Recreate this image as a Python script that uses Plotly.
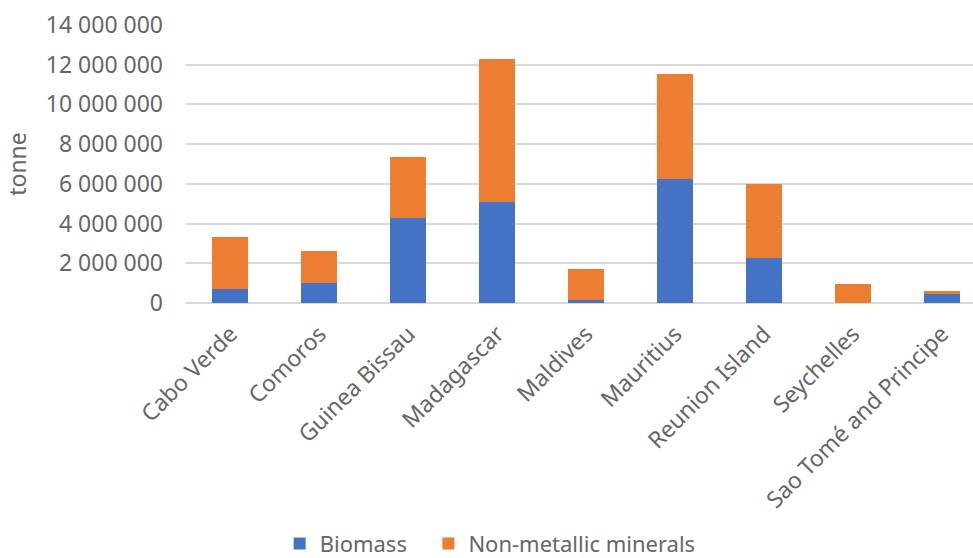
import plotly.graph_objects as go

categories = ["Cabo Verde", "Comoros", "Guinea Bissau", "Madagascar", "Maldives",
              "Mauritius", "Reunion Island", "Seychelles", "Sao Tomé and Principe"]
biomass = [720000, 1020000, 4300000, 5100000, 150000, 6240000, 2250000, 20000, 470000]
totals = [3320000, 2630000, 7330000, 12270000, 1700000, 11550000, 6010000, 940000, 590000]
non_metallic = [t - b for t, b in zip(totals, biomass)]
y_ticks = [0, 2000000, 4000000, 6000000, 8000000, 10000000, 12000000, 14000000]

font = dict(family="Noto Sans", size=23, color="#666666")
legend_font = dict(family="Noto Sans", size=22, color="#666666")

fig = go.Figure()
fig.add_trace(go.Bar(x=list(range(len(categories))), y=biomass, name="Biomass",
                     marker=dict(color="#4472C4", line=dict(width=0)), legend="legend"))
fig.add_trace(go.Bar(x=list(range(len(categories))), y=non_metallic, name="Non-metallic minerals",
                     marker=dict(color="#ED7D31", line=dict(width=0)), legend="legend2"))

legend_common = dict(orientation="h", y=-0.866, yanchor="middle", font=legend_font,
                     itemwidth=30, bgcolor="rgba(0,0,0,0)", borderwidth=0)

fig.update_layout(
    barmode="stack",
    bargap=0.595,
    width=973, height=558,
    margin=dict(l=186, r=0, t=25, b=255, autoexpand=False),
    paper_bgcolor="white", plot_bgcolor="white",
    font=font,
    separators=". ",
    showlegend=True,
    legend=dict(x=0.119, xanchor="left", **legend_common),
    legend2=dict(x=0.308, xanchor="left", **legend_common),
    xaxis=dict(range=[-0.5, 8.35], tickmode="array", tickvals=list(range(len(categories))),
               ticktext=categories, tickangle=-45, showgrid=False, zeroline=False,
               showline=False, ticks="", tickfont=font, automargin=False,
               ticklabelstandoff=12),
    yaxis=dict(range=[0, 14000000], tickmode="array", tickvals=y_ticks, tickformat=",d",
               showgrid=True, gridcolor="#d9d9d9", gridwidth=1.5, zeroline=True,
               zerolinecolor="#d9d9d9", zerolinewidth=1.5, showline=False, ticks="",
               ticklabelstandoff=22, tickfont=font, automargin=False,
               title=dict(text="tonne", font=font, standoff=12)),
)

fig.write_html("out.html")
